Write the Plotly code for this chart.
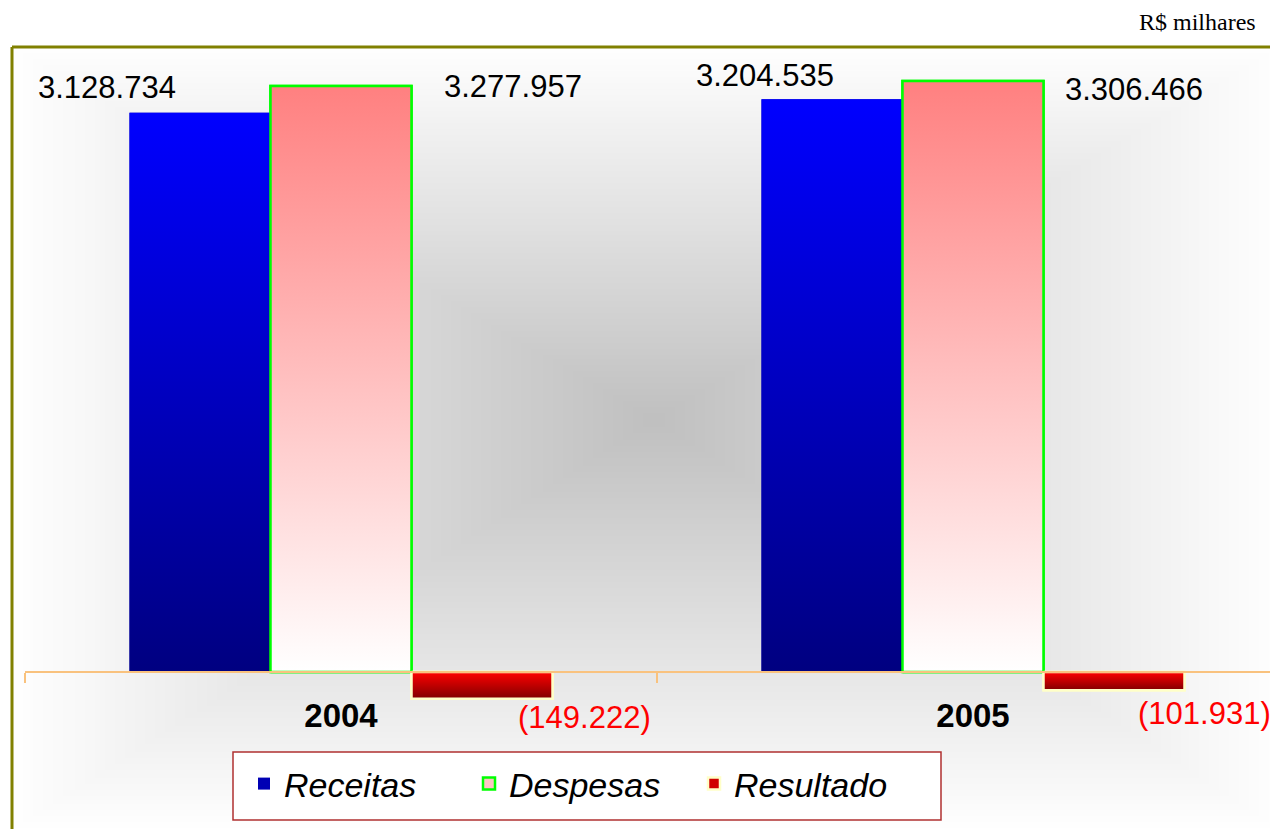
import base64
import struct
import zlib

import numpy as np
import plotly.graph_objects as go

# ---------------- data ----------------
years = ["2004", "2005"]
receitas = [3128734, 3204535]
despesas = [3277957, 3306466]
resultado = [-149222, -101931]
series_names = ["Receitas", "Despesas", "Resultado"]
unit_note = "R$ milhares"

# ---------------- styles ----------------
FONT = "Arial, Liberation Sans, sans-serif"
BAR_W = 0.2231  # bar width in category units
series_style = {
    "Receitas": dict(solid="#0000B4", scale=[[0, "#000080"], [1, "#0000FF"]], line="#0000C0", lw=0),
    "Despesas": dict(solid="#FFC4C4", scale=[[0, "#FFFFFF"], [1, "#FF8080"]], line="#00FF00", lw=2.5),
    "Resultado": dict(solid="#D00000", scale=[[0, "#800000"], [1, "#FF0000"]], line="#FFFFC8", lw=2.5),
}
# label offsets in pixels (xshift, yshift) per series / year
label_offsets = {
    "Receitas": [(-93, 25), (-67, 24)],
    "Despesas": [(172, 0), (161, -9)],
    "Resultado": [(102, -19), (90, -23)],
}

# page is drawn with an 8px body margin; work in reference pixels
FIG_W, FIG_H = 1270, 821
PLOT_L, PLOT_T = 25, 47          # reference px of plot area's left / top
PLOT_W, PLOT_H = 1253, 782


def paper_x(p):
    return (p - PLOT_L) / PLOT_W


def paper_y(p):
    return (PLOT_T + PLOT_H - p) / PLOT_H


def fmt(v):
    s = f"{abs(v):,}".replace(",", ".")
    return f"({s})" if v < 0 else s


def make_png(arr):
    h, w, _ = arr.shape
    raw = b"".join(b"\x00" + arr[i].tobytes() for i in range(h))

    def chunk(tag, data):
        c = struct.pack(">I", len(data)) + tag + data
        return c + struct.pack(">I", zlib.crc32(tag + data) & 0xFFFFFFFF)

    png = (b"\x89PNG\r\n\x1a\n"
           + chunk(b"IHDR", struct.pack(">IIBBBBB", w, h, 8, 2, 0, 0, 0))
           + chunk(b"IDAT", zlib.compress(raw, 9))
           + chunk(b"IEND", b""))
    return "data:image/png;base64," + base64.b64encode(png).decode()


# rectangular "from centre" grey gradient background (decoration)
W_IMG, H_IMG = 632, 391
px = 14 + (np.arange(W_IMG) + 0.5) * 2
py = 48 + (np.arange(H_IMG) + 0.5) * 2
cx, cy = 655, 420
dx = np.where(px < cx, (cx - px) / (cx - 14), (px - cx) / (1278 - cx))
dy = np.where(py < cy, (cy - py) / (cy - 48), (py - cy) / (829 - cy))
t = np.clip(np.maximum(dx[None, :], dy[:, None]), 0, 1)
g = (192 + 63 * t).astype(np.uint8)
bg_uri = make_png(np.stack([g, g, g], axis=-1))

fig = go.Figure()
data_by_series = {"Receitas": receitas, "Despesas": despesas, "Resultado": resultado}

# real bars (also provide the legend entries)
for k, name in enumerate(series_names):
    st = series_style[name]
    fig.add_trace(go.Bar(
        x=[0, 1], y=data_by_series[name], name=name,
        width=BAR_W, offset=(k - 1) * BAR_W - BAR_W / 2,
        marker=dict(color=st["solid"], line=dict(color=st["line"], width=st["lw"])),
        hoverinfo="skip",
    ))

# gradient shading of the same bars
for k, name in enumerate(series_names):
    st = series_style[name]
    for j, v in enumerate(data_by_series[name]):
        xc = j + (k - 1) * BAR_W
        x0, x1 = xc - BAR_W / 2, xc + BAR_W / 2
        fig.add_trace(go.Scatter(
            x=[x0, x0, x1, x1, x0], y=[0, v, v, 0, 0],
            mode="lines", fill="toself",
            fillgradient=dict(type="vertical", colorscale=st["scale"]),
            line=dict(color=st["line"], width=st["lw"]),
            showlegend=False, hoverinfo="skip",
        ))
        dxs, dys = label_offsets[name][j]
        fig.add_annotation(
            x=xc, y=v, xref="x", yref="y", text=fmt(v), showarrow=False,
            xanchor="center", yanchor="middle", xshift=dxs, yshift=dys,
            font=dict(family=FONT, size=31, color="#FF0000" if v < 0 else "#000000"),
        )

fig.add_annotation(
    x=paper_x(1258), y=paper_y(22), xref="paper", yref="paper",
    text=unit_note, showarrow=False, xanchor="right", yanchor="middle",
    font=dict(family="Liberation Serif, Times New Roman, serif", size=24, color="#000000"),
)

# olive frame (top and left)
fig.add_shape(type="line", xref="paper", yref="paper",
              x0=paper_x(12), x1=paper_x(1290), y0=paper_y(47), y1=paper_y(47),
              line=dict(color="#808000", width=3))
fig.add_shape(type="line", xref="paper", yref="paper",
              x0=paper_x(12), x1=paper_x(12), y0=paper_y(840), y1=paper_y(47),
              line=dict(color="#808000", width=3))
# legend frame
fig.add_shape(type="rect", xref="paper", yref="paper", layer="above",
              x0=paper_x(233), x1=paper_x(941), y0=paper_y(820), y1=paper_y(752),
              fillcolor="#FFFFFF", line=dict(color="#B03030", width=1.5))

fig.add_layout_image(
    source=bg_uri, xref="paper", yref="paper",
    x=paper_x(14), y=paper_y(48), sizex=1264 / PLOT_W, sizey=781 / PLOT_H,
    xanchor="left", yanchor="top", sizing="stretch", layer="below",
)

fig.update_layout(
    width=FIG_W, height=FIG_H,
    margin=dict(l=PLOT_L - 8, r=0, t=PLOT_T - 8, b=0),
    paper_bgcolor="#FFFFFF", plot_bgcolor="rgba(0,0,0,0)",
    barmode="overlay", showlegend=True,
    legend=dict(
        orientation="h", x=paper_x(244), xanchor="left",
        y=paper_y(784), yanchor="middle",
        bgcolor="rgba(0,0,0,0)", borderwidth=0,
        entrywidth=180, entrywidthmode="pixels",
        font=dict(family=FONT, size=34, style="italic", color="#000000"),
        traceorder="normal",
    ),
    xaxis=dict(
        range=[-0.5, -0.5 + PLOT_W / 632],
        tickmode="array", tickvals=[0, 1], ticktext=years,
        ticks="", showgrid=False, zeroline=False,
        showline=True, linecolor="#F9C27E", linewidth=1.5,
        anchor="free", position=paper_y(672),
        tickfont=dict(family=FONT, size=33, color="#000000", weight="bold"),
        ticklabelstandoff=15,
        minor=dict(tickmode="array", tickvals=[-0.5, 0.5, 1.5], ticks="outside",
                   ticklen=10, tickcolor="#F9C27E", tickwidth=1.5, showgrid=False),
        fixedrange=True,
    ),
    yaxis=dict(range=[-878233, 3496116], visible=False, showgrid=False,
               zeroline=False, fixedrange=True),
)

fig.write_html("out.html")
